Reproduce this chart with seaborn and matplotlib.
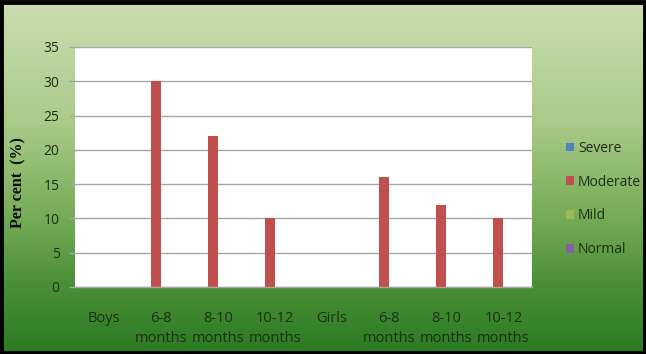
import numpy as np
import pandas as pd
import matplotlib
matplotlib.use("Agg")
import matplotlib.pyplot as plt
import seaborn as sns
from matplotlib.colors import LinearSegmentedColormap
from matplotlib.patches import Rectangle

categories = ["Boys", "6-8\nmonths", "8-10\nmonths", "10-12\nmonths",
              "Girls", "6-8\nmonths", "8-10\nmonths", "10-12\nmonths"]
series = ["Severe", "Moderate", "Mild", "Normal"]
severe = [0, 0, 0, 0, 0, 0, 0, 0]
moderate = [0, 30, 22, 10, 0, 16, 12, 10]
mild = [0, 0, 0, 0, 0, 0, 0, 0]
normal = [0, 0, 0, 0, 0, 0, 0, 0]
yticks = [0, 5, 10, 15, 20, 25, 30, 35]

colors = ["#4f81bd", "#c0504d", "#9bbb59", "#8064a2"]

rows = []
for name, vals in zip(series, [severe, moderate, mild, normal]):
    for pos, (cat, v) in enumerate(zip(categories, vals)):
        rows.append({"pos": pos, "label": cat, "Status": name, "Per cent": v})
df = pd.DataFrame(rows)

sns.set_theme(style="white")
plt.rcParams["font.family"] = ["Open Sans", "DejaVu Sans"]

W, H = 646, 354
fig = plt.figure(figsize=(W / 100, H / 100), dpi=100)

# green gradient background over the whole figure
bg = fig.add_axes([0, 0, 1, 1], zorder=-10)
cmap = LinearSegmentedColormap.from_list(
    "bg", [(0.0, "#cbdeb2"), (0.35, "#a9ca88"), (0.6, "#79ad5a"),
           (0.8, "#4b9038"), (1.0, "#2a7a22")])
grad = np.linspace(0, 1, 256).reshape(-1, 1)
bg.imshow(grad, aspect="auto", cmap=cmap, extent=[0, 1, 0, 1], origin="upper")
bg.set_axis_off()
fig.patches.append(Rectangle((0.002, 0.002), 0.996, 0.992, transform=fig.transFigure,
                             fill=False, edgecolor="black", linewidth=3.5, zorder=20))

left, right, top, bottom = 75, 532, 47, 287
ax = fig.add_axes([left / W, 1 - bottom / H, (right - left) / W, (bottom - top) / H])
ax.set_facecolor("white")

sns.barplot(data=df, x="pos", y="Per cent", hue="Status", hue_order=series,
            palette=colors, width=0.7, ax=ax, legend=True, saturation=1,
            edgecolor="none", linewidth=0)

ax.set_ylim(0, 35)
ax.set_xlim(-0.5, len(categories) - 0.5)
ax.set_yticks(yticks)
ax.set_xticks(range(len(categories)))
ax.set_xticklabels(categories, linespacing=1.45)
ax.set_xlabel("")
ax.set_ylabel("")
ax.yaxis.grid(True, color="#a6a6a6", linewidth=1)
ax.set_axisbelow(True)
for s in ["top", "right", "left"]:
    ax.spines[s].set_visible(False)
ax.spines["bottom"].set_color("#a6a6a6")
ax.spines["bottom"].set_linewidth(1)

tick_color = "#1c2e14"
ax.tick_params(axis="y", left=True, length=4, width=1, color="#a6a6a6",
               pad=7, labelsize=10, labelcolor=tick_color)
ax.tick_params(axis="x", bottom=False, pad=11, labelsize=10.5, labelcolor=tick_color)

fig.text(18 / W, 1 - 183 / H, "Per cent  (%)", rotation=90, ha="center", va="center",
         fontsize=11.5, fontweight="bold", family=["Liberation Serif"], color="#0a0a0a")

ax.legend_.remove()
handles, labels = ax.get_legend_handles_labels()
fig.legend(handles, labels, loc="center left", bbox_to_anchor=(553 / W, 1 - 199 / H),
           frameon=False, fontsize=10, labelcolor=tick_color, handlelength=0.6,
           handleheight=0.6, handletextpad=0.3, labelspacing=1.35)

fig.savefig("out.png", dpi=100)
